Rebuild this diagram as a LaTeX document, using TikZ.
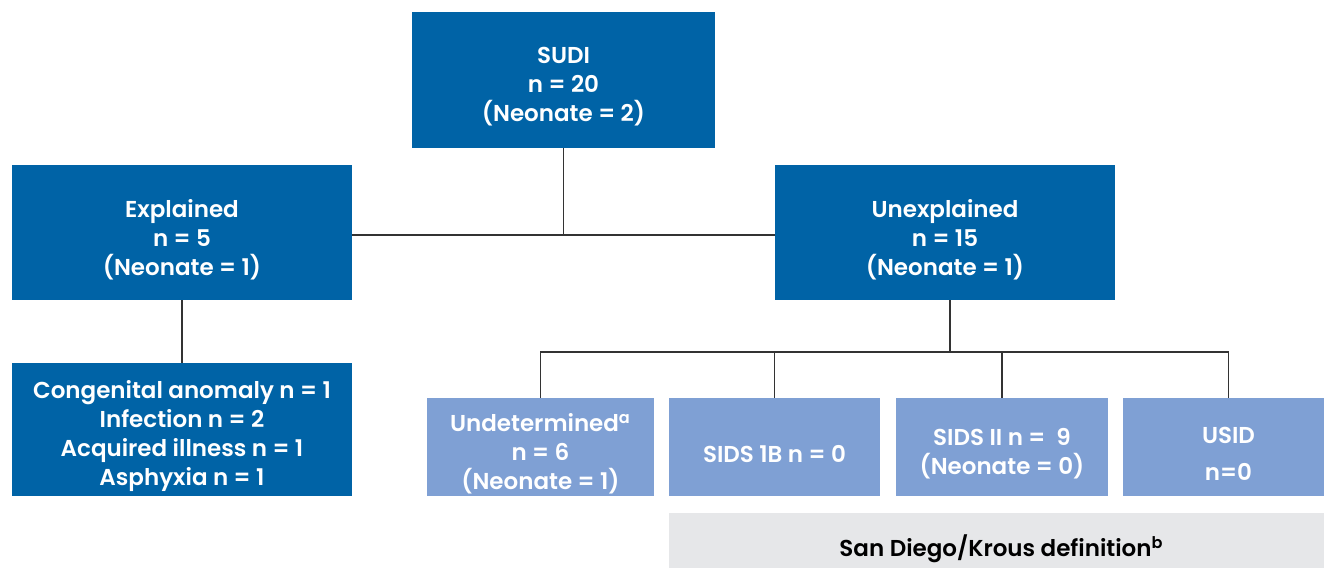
\documentclass[tikz,border=0pt]{standalone}
\usepackage{fontspec}
\setmainfont{Poppins}[BoldFont={* SemiBold}]
\definecolor{darkbox}{HTML}{0063A6}
\definecolor{lightbox}{HTML}{7FA0D4}
\definecolor{greybox}{HTML}{E6E7E9}
\definecolor{linegrey}{HTML}{333333}

\tikzset{
  boxtext/.style={text=white, font=\bfseries\fontsize{11.5}{14.5}\selectfont,
    align=center, inner sep=0pt, yshift=-3.5pt},
  box/.style={fill=darkbox, inner sep=0pt, minimum height=67.5pt,
    label={[boxtext]center:#1}},
  subbox/.style={box={#1}, fill=lightbox, minimum height=49pt},
  link/.style={draw=linegrey, line width=0.75pt}
}

\begin{document}
\begin{tikzpicture}[x=0.5pt,y=-0.5pt]
\useasboundingbox (0,0) rectangle (1324,568);

\node [box={SUDI\\n = 20\\(Neonate = 2)}, minimum width=151.5pt, minimum height=68pt] (sudi) at (563.5,80) {};
\node [box={Explained\\n = 5\\(Neonate = 1)}, minimum width=170pt] (expl) at (182,232.5) {};
\node [box={Unexplained\\n = 15\\(Neonate = 1)}, minimum width=170pt] (unexpl) at (945,232.5) {};
\node [box={Congenital anomaly n = 1\\Infection n = 2\\Acquired illness n = 1\\Asphyxia n = 1},
  minimum width=170pt, minimum height=66.5pt] (causes) at (182,429.5) {};

\node [subbox={Undetermined\textsuperscript{a}\\n = 6\\(Neonate = 1)}, minimum width=113.5pt] (undet) at (540.5,447) {};
\node [subbox={SIDS 1B n = 0}, minimum width=105.5pt] (sidsib) at (774.5,447) {};
\node [subbox={SIDS II n = \ 9\\(Neonate = 0)}, minimum width=106pt] (sidsii) at (1002,447) {};
\node [subbox={USID\\[4pt]n=0}, minimum width=105.5pt] (usid) at (1228.5,447) {};

\node [fill=greybox, text=black, font=\bfseries\fontsize{11.5}{14.5}\selectfont, inner sep=0pt,
  minimum width=332.5pt, minimum height=36pt] (krous) at (1001.5,549) {San Diego/Krous definition\textsuperscript{b}};

% first level
\coordinate (join) at ([yshift=-1.25pt]expl.east);
\draw [link] (sudi.south) -- (sudi.south |- join);
\draw [link] (join) -- (join -| unexpl.west);
\draw [link] (expl.south) -- (causes.north);

% second level
\coordinate (split) at (950,352);
\draw [link, line width=1.2pt] (unexpl.south -| split) -- (split);
\draw [link] (undet.north) |- (usid.north |- split) -- (usid.north);
\foreach \n in {sidsib, sidsii}
  \draw [link] (\n.north) -- (\n.north |- split);
\end{tikzpicture}
\end{document}
